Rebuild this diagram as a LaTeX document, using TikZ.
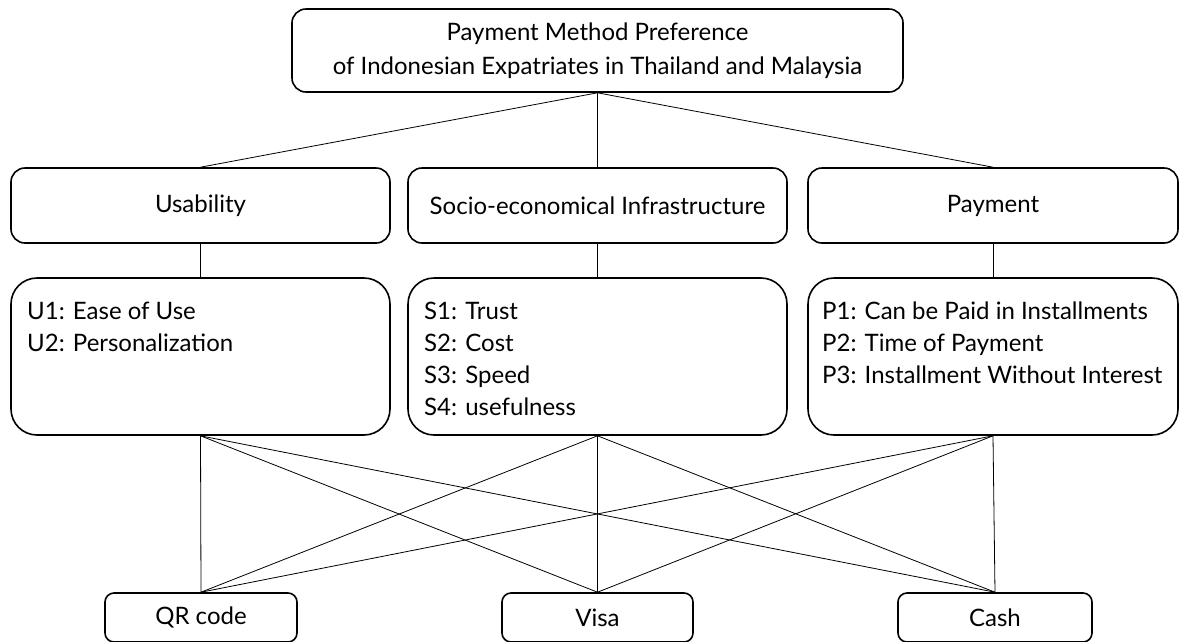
\documentclass[tikz,border=0pt]{standalone}
\usepackage{fontspec}
\setmainfont{Lato}
\usetikzlibrary{positioning}

\begin{document}
\begin{tikzpicture}[
    x=1pt, y=-1pt,
    box/.style={%
      draw,
      rectangle,
      rounded corners=14pt,
      line width=1.6pt,
      inner sep=0pt,
      align=center,
      font=\fontsize{24}{34}\selectfont,
    },
    listbox/.style={%
      box,
      rounded corners=26pt,
      minimum height=157pt,
    },
    listtext/.style={%
      anchor=north west,
      inner sep=0pt,
      align=left,
      font=\fontsize{24}{32}\selectfont,
    },
    method/.style={%
      box,
      rounded corners=9pt,
      minimum height=49pt,
    },
    link/.style={%
      draw,
      line width=0.8pt,
    },
  ]
    \useasboundingbox (0,0) rectangle (1179,641);

    \node [box, minimum width=611pt, minimum height=83pt] (goal) at (597.5,50.5)
      {Payment Method Preference\\of Indonesian Expatriates in Thailand and Malaysia};

    \node [box, minimum width=379pt, minimum height=75pt] (U) at (200.5,205.5) {Usability};
    \node [box, minimum width=379pt, minimum height=75pt] (S) at (597.5,205.5) {Socio-economical Infrastructure};
    \node [box, minimum width=370pt, minimum height=75pt] (P) at (993,205.5) {Payment};

    \node [listbox, minimum width=379pt] (Ulist) at (200.5,356.5) {};
    \node [listbox, minimum width=379pt] (Slist) at (597.5,356.5) {};
    \node [listbox, minimum width=370pt] (Plist) at (993,356.5) {};

    \node [listtext] (Utext) at (27,302) {U1: Ease of Use\\U2: Personalization};
    \node [listtext] (Stext) at (424,302) {S1: Trust\\S2: Cost\\S3: Speed\\S4: usefulness};
    \node [listtext] (Ptext) at (822,302) {P1: Can be Paid in Installments\\P2: Time of Payment\\P3: Installment Without Interest};

    \node [method, minimum width=192pt] (QR) at (201,617.5) {QR code};
    \node [method, minimum width=191pt] (Visa) at (597.5,617.5) {Visa};
    \node [method, minimum width=194pt] (Cash) at (995,617.5) {Cash};

    \draw [link] (goal.south) -- (U.north);
    \draw [link] (goal.south) -- (S.north);
    \draw [link] (goal.south) -- (P.north);

    \draw [link] (U.south) -- (Ulist.north);
    \draw [link] (S.south) -- (Slist.north);
    \draw [link] (P.south) -- (Plist.north);

    \draw [link] (Ulist.south) -- (QR.north);
    \draw [link] (Ulist.south) -- (Visa.north);
    \draw [link] (Ulist.south) -- (Cash.north);
    \draw [link] (Slist.south) -- (QR.north);
    \draw [link] (Slist.south) -- (Visa.north);
    \draw [link] (Slist.south) -- (Cash.north);
    \draw [link] (Plist.south) -- (QR.north);
    \draw [link] (Plist.south) -- (Visa.north);
    \draw [link] (Plist.south) -- (Cash.north);
\end{tikzpicture}
\end{document}
